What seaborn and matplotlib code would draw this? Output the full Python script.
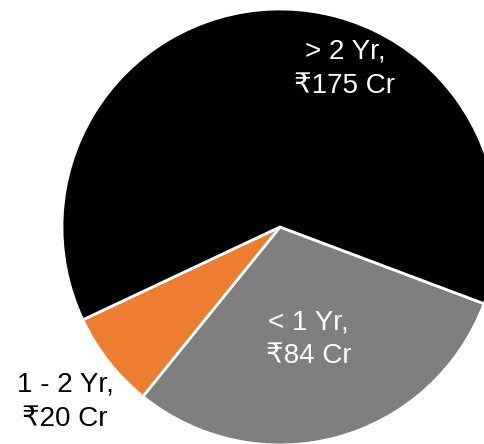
import matplotlib
matplotlib.use("Agg")
import matplotlib.pyplot as plt
import seaborn as sns

# Data
categories = ["< 1 Yr", "1 - 2 Yr", "> 2 Yr"]
values = [84, 20, 175]
value_labels = ["₹84 Cr", "₹20 Cr", "₹175 Cr"]

sns.set_style("white")
plt.rcParams['font.family'] = ['Liberation Sans', 'DejaVu Sans']

colors = sns.color_palette(["#7F7F7F", "#ED7D31", "#000000"])

W, H = 485, 444
fig = plt.figure(figsize=(W / 100, H / 100), dpi=100)
ax = fig.add_axes([0, 0, 1, 1])

ax.pie(values, colors=colors, startangle=-20.6, counterclock=False, radius=1.0,
       wedgeprops=dict(edgecolor="white", linewidth=2.0))

# layout: pie center at pixel (280, 227), radius 218 px
cx, cy, r = 280, 227, 218
ax.set_xlim(-cx / r, (W - cx) / r)
ax.set_ylim(-(H - cy) / r, cy / r)
ax.set_aspect("auto")
ax.axis("off")

label_pos = [(0.131, -0.515), (-0.986, -0.80), (0.298, 0.727)]
text_colors = ["white", "black", "white"]
for cat, vl, (x, y), tc in zip(categories, value_labels, label_pos, text_colors):
    ax.text(x, y, f"{cat},\n{vl}", ha="center", va="center", fontsize=20,
            color=tc, linespacing=1.42)

fig.savefig("out.png", dpi=100)
